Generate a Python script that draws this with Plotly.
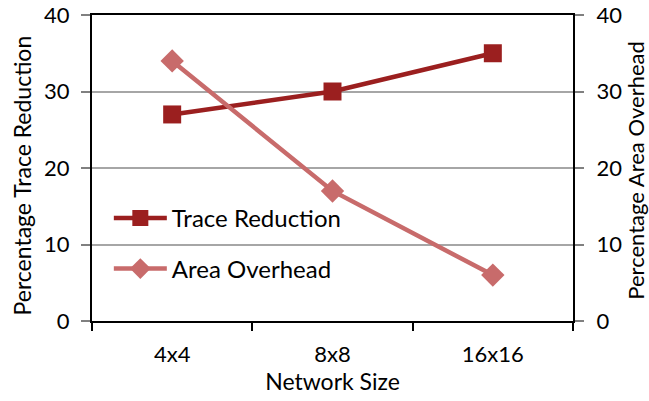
import plotly.graph_objects as go

# Network sizes and measured percentages
network_sizes = ["4x4", "8x8", "16x16"]
trace_reduction = [27, 30, 35]
area_overhead = [34, 17, 6]
y_ticks = [0, 10, 20, 30, 40]

dark_red = "#9B1F1F"
light_red = "#C86B6B"
font_family = "Lato, Carlito, Calibri, sans-serif"

fig = go.Figure()

fig.add_trace(go.Scatter(
    x=network_sizes, y=trace_reduction, name="Trace Reduction",
    mode="lines+markers",
    line=dict(color=dark_red, width=4.5),
    marker=dict(symbol="square", size=18, color=dark_red),
    legend="legend",
))

fig.add_trace(go.Scatter(
    x=network_sizes, y=area_overhead, name="Area Overhead",
    mode="lines+markers",
    line=dict(color=light_red, width=4.5),
    marker=dict(symbol="diamond", size=18, color=light_red),
    yaxis="y2",
    legend="legend2",
))

axis_font = dict(family=font_family, size=22, color="#000000")
title_font = dict(family=font_family, size=23, color="#000000")
right_title_font = dict(family=font_family, size=22, color="#000000")
legend_font = dict(family=font_family, size=24, color="#000000")

fig.update_layout(
    width=649, height=401,
    margin=dict(l=92, r=76, t=15, b=80, autoexpand=False),
    paper_bgcolor="white", plot_bgcolor="white",
    font=dict(family=font_family, color="#000000"),
    xaxis=dict(
        type="category", range=[-0.5, 2.5],
        tickfont=axis_font, ticklabelstandoff=13,
        title=dict(text="Network Size", font=title_font, standoff=4),
        showgrid=False, showline=True, linecolor="#000000", linewidth=2,
        mirror=True, automargin=False,
        ticks="outside", ticklen=8, tickcolor="#000000", tickwidth=1.5,
        tickson="boundaries",
    ),
    yaxis=dict(
        range=[0, 40], tickvals=y_ticks, tickfont=axis_font,
        ticklabelstandoff=7,
        showgrid=True, gridcolor="#A6A6A6", gridwidth=1.5,
        showline=True, linecolor="#000000", linewidth=2, automargin=False,
        ticks="outside", ticklen=9, tickcolor="#808080", tickwidth=1.5,
        zeroline=False,
    ),
    yaxis2=dict(
        range=[0, 40], tickvals=y_ticks, tickfont=axis_font,
        ticklabelstandoff=8,
        overlaying="y", side="right", automargin=False,
        showgrid=False,
        showline=True, linecolor="#000000", linewidth=2,
        ticks="outside", ticklen=9, tickcolor="#808080", tickwidth=1.5,
        zeroline=False,
    ),
    legend=dict(
        x=0.035, y=0.335, xanchor="left", yanchor="middle",
        font=legend_font,
        bgcolor="rgba(255,255,255,0)", itemwidth=53,
    ),
    legend2=dict(
        x=0.035, y=0.17, xanchor="left", yanchor="middle",
        font=legend_font,
        bgcolor="rgba(255,255,255,0)", itemwidth=53,
    ),
    showlegend=True,
)

# Vertical axis titles placed beside the tick labels
fig.add_annotation(
    text="Percentage Trace Reduction", textangle=-90,
    xref="paper", yref="paper", x=-0.146, y=0.475,
    xanchor="center", yanchor="middle", showarrow=False, font=title_font,
)
fig.add_annotation(
    text="Percentage Area Overhead", textangle=-90,
    xref="paper", yref="paper", x=1.128, y=0.49,
    xanchor="center", yanchor="middle", showarrow=False, font=right_title_font,
)

fig.write_html("out.html")
